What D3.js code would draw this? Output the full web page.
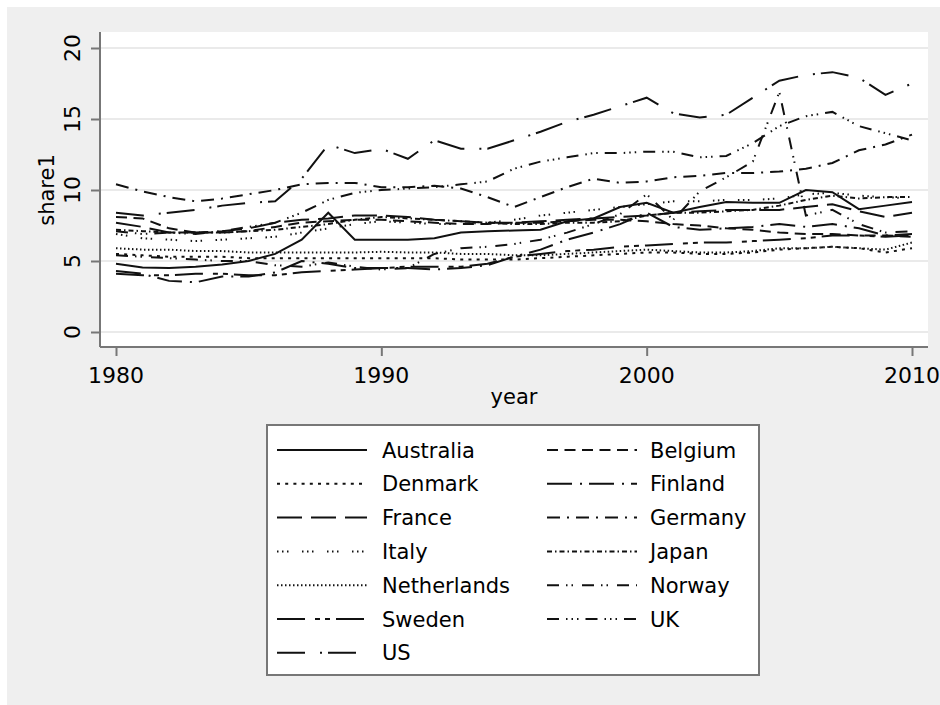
<!DOCTYPE html>
<html>
<head>
<meta charset="utf-8" />
<title>share1 by year</title>
<script src="https://cdn.jsdelivr.net/npm/d3@7"></script>
<style>
  body { margin: 0; background: #fff; }
  svg text { font-family: "DejaVu Sans", sans-serif; fill: #000; }
</style>
</head>
<body>
<script>
// data
var years = d3.range(1980, 2011);
var countries = ["Australia", "Belgium", "Denmark", "Finland", "France", "Germany", "Italy",
                 "Japan", "Netherlands", "Norway", "Sweden", "UK", "US"];
var yTicks = [0, 5, 10, 15, 20];
var xTicks = [1980, 1990, 2000, 2010];

var australia   = [4.8,4.55,4.5,4.6,4.75,5.0,5.5,6.5,8.4,6.5,6.5,6.5,6.6,7.0,7.1,7.15,7.2,7.8,8.0,8.8,9.1,8.4,8.8,9.15,9.1,9.1,10.0,9.85,8.65,8.9,9.15];
var belgium     = [8.1,8.0,7.3,7.0,7.0,7.1,7.4,7.7,7.8,7.9,7.9,7.8,7.7,7.6,7.6,7.7,7.7,7.8,7.9,7.9,7.8,7.6,7.5,7.3,7.2,7.0,6.9,6.9,6.8,6.8,6.7];
var denmark     = [5.5,5.4,5.3,5.3,5.3,5.2,5.2,5.2,5.2,5.2,5.2,5.2,5.2,5.1,5.1,5.1,5.2,5.3,5.4,5.5,5.6,5.6,5.5,5.5,5.6,5.8,5.9,6.0,5.9,5.6,5.9];
var finland     = [4.3,4.1,3.6,3.5,3.9,3.9,4.2,5.0,4.8,4.5,4.5,4.5,4.4,4.5,4.7,5.3,5.8,6.5,7.0,7.6,8.4,7.4,7.2,7.3,7.4,7.6,7.4,7.6,7.3,6.8,6.9];
var france      = [7.7,7.4,7.0,7.0,7.1,7.3,7.7,7.9,8.0,8.2,8.2,8.1,7.9,7.8,7.7,7.7,7.8,7.9,8.0,8.1,8.2,8.4,8.5,8.6,8.6,8.6,8.8,9.0,8.5,8.1,8.4];
var germany     = [10.4,9.9,9.5,9.2,9.4,9.7,10.0,10.4,10.5,10.5,10.2,10.2,10.3,10.1,9.5,8.8,9.5,10.2,10.8,10.5,10.6,10.9,11.0,11.2,11.2,11.3,11.5,11.9,12.8,13.2,13.9];
var italy       = [6.9,6.6,6.5,6.4,6.5,6.6,6.7,7.0,7.3,7.6,7.8,7.7,7.6,7.6,7.7,7.9,8.2,8.4,8.6,8.8,9.0,9.2,9.2,9.3,9.3,9.4,9.7,9.8,9.6,9.5,9.4];
var japan       = [7.2,7.1,7.0,7.0,7.0,7.1,7.2,7.4,7.6,7.9,8.1,8.0,7.9,7.8,7.7,7.6,7.6,7.7,7.7,7.8,8.2,8.4,8.4,8.5,8.6,8.9,9.3,9.6,9.4,9.5,9.5];
var netherlands = [5.9,5.8,5.8,5.7,5.7,5.6,5.6,5.6,5.6,5.6,5.65,5.6,5.6,5.5,5.5,5.4,5.4,5.5,5.6,5.7,5.8,5.7,5.6,5.6,5.7,5.9,5.9,6.0,5.9,5.8,6.3];
var norway      = [5.4,5.3,5.2,5.1,5.0,5.0,4.7,4.6,4.9,4.6,4.4,4.5,5.5,5.9,6.0,6.2,6.5,7.0,7.6,8.3,9.7,7.9,9.9,10.9,12.0,16.9,8.2,8.6,7.6,7.0,7.1];
var sweden      = [4.1,4.0,4.0,4.1,4.1,4.0,4.0,4.2,4.3,4.4,4.5,4.6,4.6,4.6,4.8,5.3,5.5,5.7,5.8,6.0,6.1,6.2,6.3,6.3,6.4,6.5,6.6,6.8,6.8,6.7,6.8];
var uk          = [7.1,6.9,7.0,6.9,7.1,7.4,7.7,8.4,9.3,9.8,10.0,10.1,10.2,10.4,10.6,11.5,12.0,12.3,12.6,12.6,12.7,12.7,12.3,12.4,13.3,14.5,15.2,15.5,14.5,14.0,13.5];
var us          = [8.4,8.2,8.4,8.6,8.9,9.1,9.2,10.8,13.2,12.6,12.9,12.2,13.5,12.9,12.9,13.5,14.1,14.8,15.3,15.9,16.5,15.4,15.1,15.3,16.5,17.7,18.1,18.3,17.9,16.7,17.5];

var seriesValues = [australia, belgium, denmark, finland, france, germany, italy,
                    japan, netherlands, norway, sweden, uk, us];

// line patterns, in legend order
var dashes = ["none", "11,6.5", "3,5.2", "25,8,2,7", "25,9", "13,7,2,7", "1.5,3.5,1.5,3.5,1.5,13.5",
              "5,3,1.5,3", "1.5,2.5", "12,7,1.5,4,1.5,9", "28,10,5,5,5,6", "12,7,1.5,4,1.5,4,1.5,7", "28,15,2,6"];

var w = 940, h = 705;
var plot = { left: 100, right: 928, top: 32, bottom: 347 };

var svg = d3.select("body").append("svg")
    .attr("width", w)
    .attr("height", h);

// outer gray panel
svg.append("rect")
    .attr("x", 7).attr("y", 7)
    .attr("width", w - 7).attr("height", h - 7)
    .attr("fill", "#efefef");

// plot region
svg.append("rect")
    .attr("x", plot.left).attr("y", plot.top)
    .attr("width", plot.right - plot.left).attr("height", plot.bottom - plot.top)
    .attr("fill", "#fff");

var x = d3.scaleLinear().domain([1980, 2010]).range([116, 912]);
var y = d3.scaleLinear().domain([0, 20]).range([332, 48]);

// grid lines
svg.selectAll(".grid")
    .data(yTicks)
    .enter()
    .append("line")
    .attr("x1", plot.left).attr("x2", plot.right)
    .attr("y1", function (d) { return y(d); })
    .attr("y2", function (d) { return y(d); })
    .attr("stroke", "#eaeaea")
    .attr("stroke-width", 2);

// y axis
var yAxis = svg.append("g")
    .attr("transform", "translate(" + plot.left + ",0)")
    .call(d3.axisLeft(y).tickValues(yTicks).tickSize(9).tickPadding(0).tickFormat(""));
yAxis.select(".domain").attr("d", "M0," + plot.top + "V" + plot.bottom);
yAxis.selectAll("path, line").attr("stroke", "#777").attr("stroke-width", 2);

svg.selectAll(".ylab")
    .data(yTicks)
    .enter()
    .append("text")
    .attr("transform", function (d) { return "translate(80," + y(d) + ") rotate(-90)"; })
    .attr("text-anchor", "middle")
    .attr("font-size", "22px")
    .text(function (d) { return d; });

// x axis
var xAxis = svg.append("g")
    .attr("transform", "translate(0," + plot.bottom + ")")
    .call(d3.axisBottom(x).tickValues(xTicks).tickSize(9).tickFormat(""));
xAxis.select(".domain").attr("d", "M" + plot.left + ",0H" + plot.right);
xAxis.selectAll("path, line").attr("stroke", "#777").attr("stroke-width", 2);

svg.selectAll(".xlab")
    .data(xTicks)
    .enter()
    .append("text")
    .attr("x", function (d) { return x(d); })
    .attr("y", 383)
    .attr("text-anchor", "middle")
    .attr("font-size", "22px")
    .text(function (d) { return d; });

// axis titles
svg.append("text")
    .attr("transform", "translate(54,190) rotate(-90)")
    .attr("text-anchor", "middle")
    .attr("font-size", "21px")
    .text("share1");

svg.append("text")
    .attr("x", 514).attr("y", 404)
    .attr("text-anchor", "middle")
    .attr("font-size", "21px")
    .text("year");

// lines
var line = d3.line()
    .x(function (d, i) { return x(years[i]); })
    .y(function (d) { return y(d); });

svg.selectAll(".series")
    .data(seriesValues)
    .enter()
    .append("path")
    .attr("d", function (d) { return line(d); })
    .attr("fill", "none")
    .attr("stroke", "#111")
    .attr("stroke-width", 2)
    .attr("stroke-dasharray", function (d, i) { return dashes[i]; });

// legend
var legend = svg.append("g");
legend.append("rect")
    .attr("x", 267).attr("y", 425)
    .attr("width", 492).attr("height", 250)
    .attr("fill", "#fff")
    .attr("stroke", "#777")
    .attr("stroke-width", 2);

var items = legend.selectAll(".item")
    .data(countries)
    .enter()
    .append("g")
    .attr("transform", function (d, i) {
        var col = i % 2, row = Math.floor(i / 2);
        return "translate(" + (col === 0 ? 277 : 547) + "," + (450 + row * 33.8) + ")";
    });

items.append("line")
    .attr("x1", 0).attr("x2", 90)
    .attr("y1", 0).attr("y2", 0)
    .attr("stroke", "#111")
    .attr("stroke-width", 2)
    .attr("stroke-dasharray", function (d, i) { return dashes[i]; });

items.append("text")
    .attr("x", function (d, i) { return i % 2 === 0 ? 105 : 103; })
    .attr("y", 7.5)
    .attr("font-size", "21px")
    .text(function (d) { return d; });
</script>
</body>
</html>
